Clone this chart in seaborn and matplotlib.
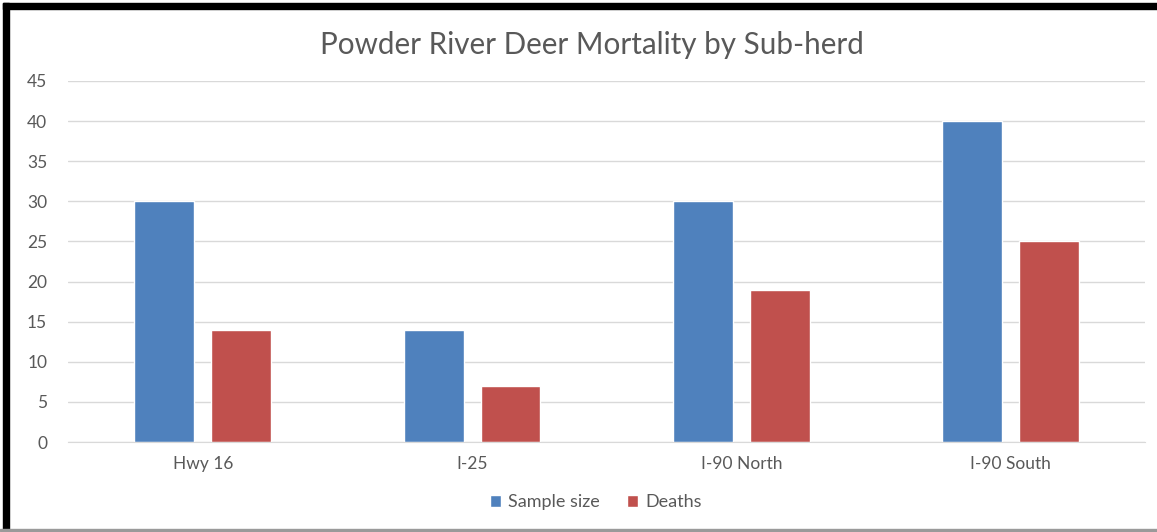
import matplotlib
matplotlib.use("Agg")
import matplotlib.pyplot as plt
from matplotlib.patches import Rectangle
import seaborn as sns
import pandas as pd

# Sub-herd data
subherds = ["Hwy 16", "I-25", "I-90 North", "I-90 South"]
sample_size = [30, 14, 30, 40]
deaths = [14, 7, 19, 25]
series_names = ["Sample size", "Deaths"]
y_ticks = [0, 5, 10, 15, 20, 25, 30, 35, 40, 45]

df = pd.DataFrame({
    "Sub-herd": subherds * 2,
    "Series": [series_names[0]] * len(subherds) + [series_names[1]] * len(subherds),
    "Count": sample_size + deaths,
})

sns.set_style("white")
plt.rcParams["font.family"] = ["Lato", "DejaVu Sans"]

fig = plt.figure(figsize=(11.57, 5.32), dpi=100)
ax = fig.add_axes([0.0588, 0.169, 0.9312, 0.679])

palette = {"Sample size": "#4F81BD", "Deaths": "#C0504D"}
sns.barplot(data=df, x="Sub-herd", y="Count", hue="Series", palette=palette,
            width=0.57, gap=0.22, saturation=1, ax=ax, legend=True)

ax.set_ylim(0, 45)
ax.set_yticks(y_ticks)
ax.yaxis.grid(True, color="#D9D9D9", linewidth=1)
ax.set_axisbelow(True)
for s in ["top", "right", "left"]:
    ax.spines[s].set_visible(False)
ax.spines["bottom"].set_color("#D9D9D9")
ax.tick_params(axis="both", length=0, colors="#595959", labelsize=12.5)
ax.tick_params(axis="y", pad=15)
ax.tick_params(axis="x", pad=10)
ax.set_xlabel("")
ax.set_ylabel("")

ax.set_title("Powder River Deer Mortality by Sub-herd", fontsize=21.3,
             color="#595959", pad=19, x=0.486)

handles, labels = ax.get_legend_handles_labels()
ax.legend(handles, labels, loc="upper center", bbox_to_anchor=(0.49, -0.10),
          ncol=2, frameon=False, fontsize=13, handlelength=0.6, handleheight=0.6,
          handletextpad=0.4, columnspacing=1.5, labelcolor="#595959")

# Frame around the chart
fig.patches.append(Rectangle((3 / 1157, 0), 6 / 1157, 1 - 3 / 532,
                             transform=fig.transFigure, color="black", zorder=10))
fig.patches.append(Rectangle((3 / 1157, 1 - 9 / 532), 1, 6 / 532,
                             transform=fig.transFigure, color="black", zorder=10))
fig.patches.append(Rectangle((0, 1 / 532), 1, 2 / 532,
                             transform=fig.transFigure, color="#9A9A9A", zorder=10))

fig.savefig("out.png", dpi=100)
